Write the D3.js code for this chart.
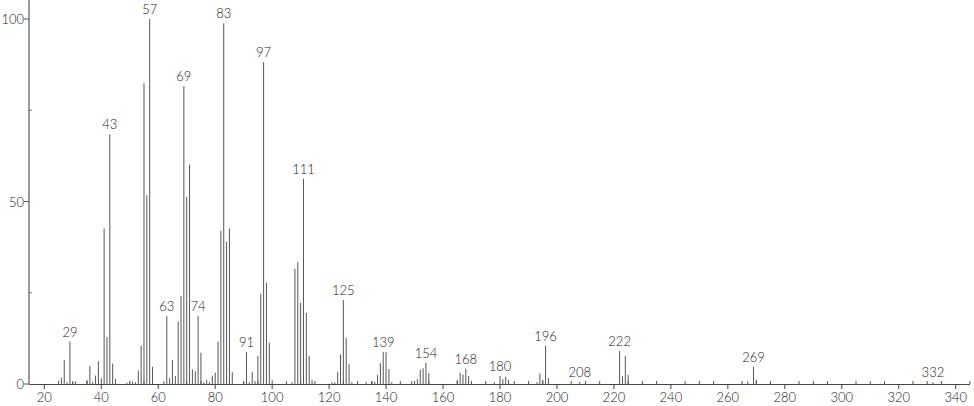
<!DOCTYPE html>
<html><head><meta charset="utf-8">
<script src="https://cdn.jsdelivr.net/npm/d3@7"></script>
<style>
html,body{margin:0;padding:0;background:#fff;}
text{font-family:"Lato","DejaVu Sans",sans-serif;font-weight:300;fill:#222;}
</style></head>
<body><svg id="c" width="974" height="406"></svg>
<script>
// m/z values and relative intensities
const mz = [26,27,28,29,30,31,35,36,37,38,39,40,41,42,43,44,45,49,50,51,52,53,54,55,56,57,58,
  62,63,64,65,66,67,68,69,70,71,72,73,74,75,76,77,78,79,80,81,82,83,84,85,86,
  90,91,92,93,94,95,96,97,98,99,100,107,108,109,110,111,112,113,114,
  121,122,123,124,125,126,127,128,133,135,136,137,138,139,140,141,142,
  149,151,152,153,154,155,165,166,167,168,169,178,180,181,182,183,
  193,194,195,196,197,208,210,222,223,224,225,267,269,270,332];
const intensity = [1.7,6.6,0.5,11.6,0.5,0.7,1.1,4.9,0.6,2.3,6.2,1.6,42.6,12.9,68.4,5.6,1.4,0.3,0.5,0.7,0.5,3.7,10.5,82.4,51.7,100,4.7,
  0.8,18.6,1.6,6.6,2.2,17.1,24.1,81.6,51.3,60.1,4.0,3.5,18.6,8.6,0.5,1.1,0.5,2.3,3.1,11.6,42.0,98.8,38.9,42.6,3.2,
  0.5,8.7,0.5,3.3,0.8,7.7,24.7,88.2,27.7,11.3,1.1,0.5,31.6,33.4,22.2,56.2,19.5,7.7,1.1,
  0.5,0.5,3.3,8.1,23.0,12.6,5.4,0.5,0.5,0.8,0.6,2.5,5.7,8.8,8.7,4.1,0.5,
  0.8,1.3,3.9,4.3,5.8,3.0,1.1,3.0,2.6,4.2,2.2,0.5,2.2,1.3,2.0,1.1,
  0.5,2.9,1.1,10.5,1.6,0.5,0.4,9.0,2.1,7.7,2.5,0.7,4.7,1.1,0.5];
const peakLabels = [29,43,57,63,69,74,83,91,97,111,125,139,154,168,180,196,208,222,269,332];
const xTicks = d3.range(20,341,20);
const yTicks = [0,50,100];

const svg = d3.select("#c");
const x = d3.scaleLinear().domain([20,340]).range([44.3,955.7]);
const y = d3.scaleLinear().domain([0,100]).range([384,19]);
const x0 = 29, x1 = 970;

const data = mz.map((m,i)=>({m, v:intensity[i]}));

// bars
svg.append("g").selectAll("line").data(data).join("line")
  .attr("x1",d=>x(d.m)).attr("x2",d=>x(d.m))
  .attr("y1",y(0)).attr("y2",d=>y(d.v))
  .attr("stroke","#555").attr("stroke-width",1);

// x axis
svg.append("line").attr("x1",x0).attr("x2",x1).attr("y1",y(0)+0.5).attr("y2",y(0)+0.5)
  .attr("stroke","#444").attr("stroke-width",1);
const minor = d3.range(15,346,5).filter(v=>v%20!==0 && x(v)>x0+2 && x(v)<x1);
svg.append("g").selectAll("line").data(minor).join("line")
  .attr("x1",d=>x(d)).attr("x2",d=>x(d)).attr("y1",y(0)).attr("y2",y(0)-3)
  .attr("stroke","#555");
svg.append("g").selectAll("line").data(xTicks).join("line")
  .attr("x1",d=>x(d)).attr("x2",d=>x(d)).attr("y1",y(0)).attr("y2",y(0)+5)
  .attr("stroke","#444");
svg.append("g").selectAll("text").data(xTicks).join("text")
  .attr("x",d=>x(d)).attr("y",402).attr("text-anchor","middle")
  .attr("font-size",13).text(d=>d);

// y axis
svg.append("line").attr("x1",x0).attr("x2",x0).attr("y1",0).attr("y2",y(0)+1)
  .attr("stroke","#999").attr("stroke-width",2);
svg.append("g").selectAll("line").data(yTicks).join("line")
  .attr("x1",x0-5).attr("x2",x0).attr("y1",d=>y(d)).attr("y2",d=>y(d))
  .attr("stroke","#555");
svg.append("g").selectAll("line").data([25,75]).join("line")
  .attr("x1",x0).attr("x2",x0+3).attr("y1",d=>y(d)).attr("y2",d=>y(d))
  .attr("stroke","#777");
svg.append("g").selectAll("text").data(yTicks).join("text")
  .attr("x",x0-5).attr("y",d=>y(d)+5).attr("text-anchor","end")
  .attr("font-size",13).text(d=>d);

// peak labels
const lab = data.filter(d=>peakLabels.includes(d.m));
svg.append("g").selectAll("text").data(lab).join("text")
  .attr("x",d=>x(d.m)).attr("y",d=>y(d.v)-5).attr("text-anchor","middle")
  .attr("font-size",13).text(d=>d.m);
</script></body></html>
